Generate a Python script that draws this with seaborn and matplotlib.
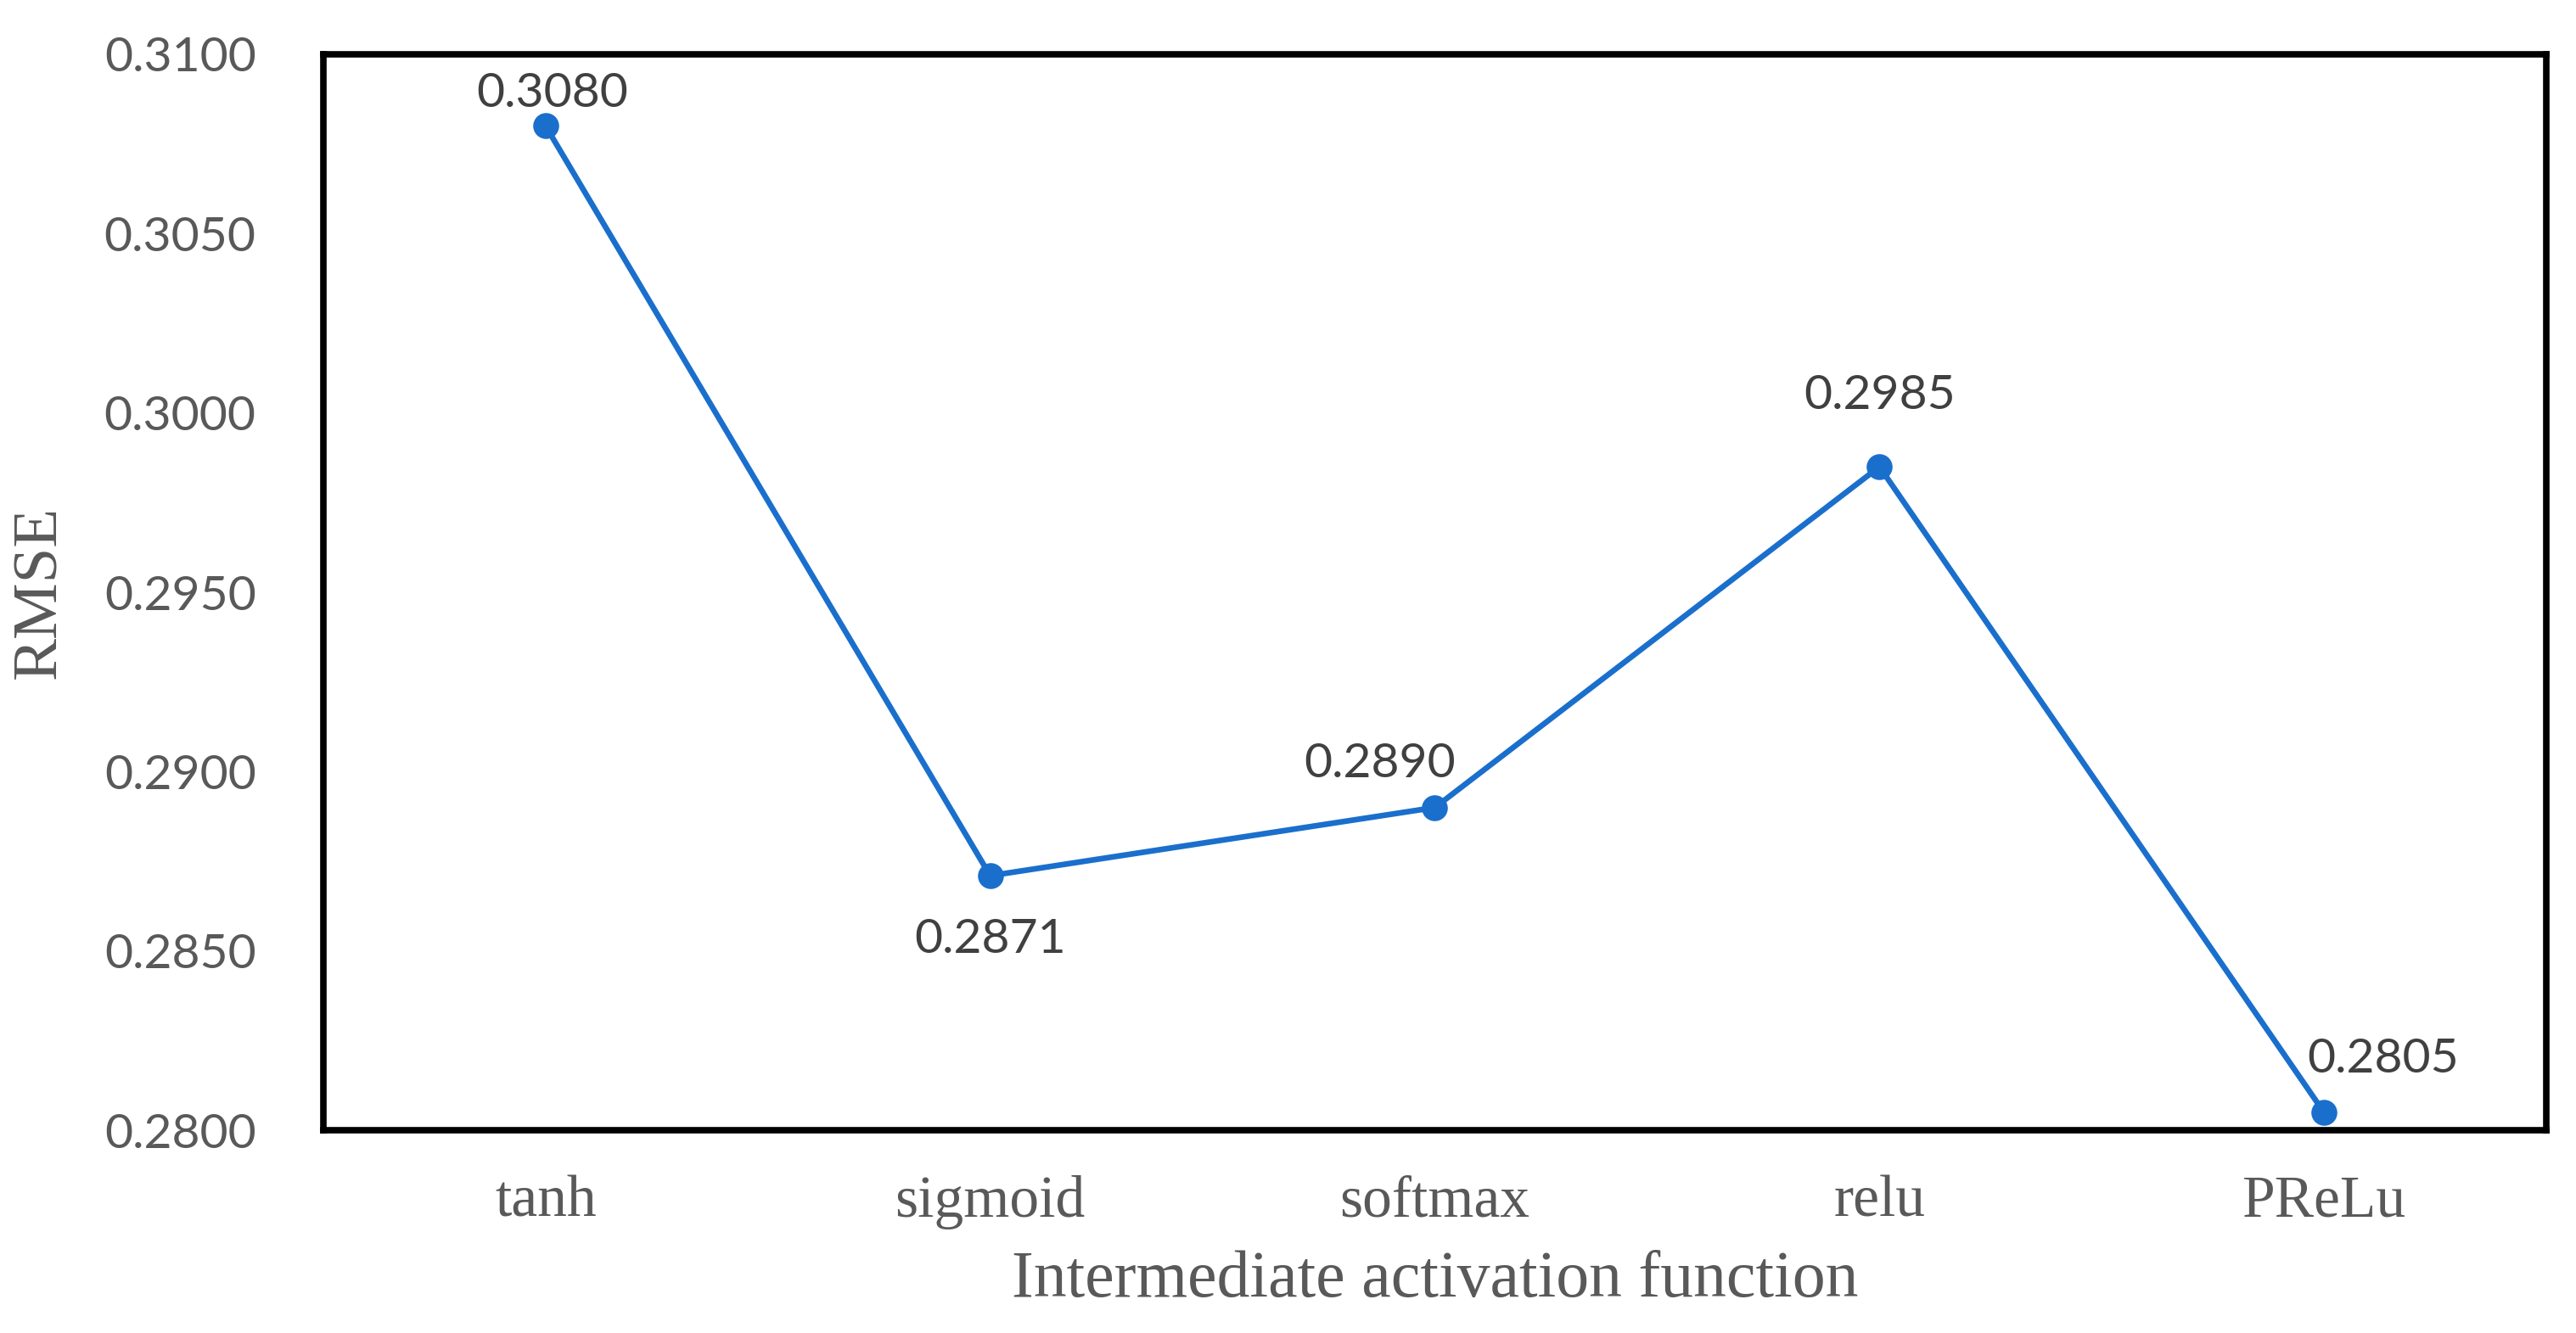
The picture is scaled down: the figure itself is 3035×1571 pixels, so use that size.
import pandas as pd
import seaborn as sns
from matplotlib import pyplot as plt

functions = ["tanh", "sigmoid", "softmax", "relu", "PReLu"]
rmse = [0.3080, 0.2871, 0.2890, 0.2985, 0.2805]
y_ticks = [0.2800, 0.2850, 0.2900, 0.2950, 0.3000, 0.3050, 0.3100]
# label offsets in points (dx, dy) for each point
label_offsets = [(6, 27), (0, -54), (-47, 37), (0, 60), (50, 45)]

df = pd.DataFrame({"function": functions, "rmse": rmse})
df["pos"] = range(len(functions))

sns.set_style("white")
plt.rcParams["font.family"] = ["Liberation Serif", "DejaVu Serif"]
num_font = ["Lato", "DejaVu Sans"]

fig = plt.figure(figsize=(30.35, 15.71), dpi=100)
ax = fig.add_axes([0.1255, 0.152, 0.863, 0.8073])

line_color = "#1a6fcc"
sns.lineplot(x="pos", y="rmse", data=df, ax=ax, color=line_color, lw=4.8,
             marker="o", markersize=22, markeredgewidth=0, legend=False)

for i, (x, y) in enumerate(zip(df["pos"], df["rmse"])):
    dx, dy = label_offsets[i]
    ax.annotate(f"{y:.4f}", (x, y), xytext=(dx, dy), textcoords="offset points",
                ha="center", va="center", fontsize=41, color="#404040",
                family=num_font)

ax.set_xlim(-0.5, len(functions) - 0.5)
ax.set_ylim(0.28, 0.31)
ax.set_xticks(df["pos"])
ax.set_xticklabels(functions)
ax.set_yticks(y_ticks)
ax.set_yticklabels([f"{t:.4f}" for t in y_ticks])
ax.tick_params(axis="both", length=0, labelcolor="#595959")
ax.tick_params(axis="x", labelsize=50, pad=38)
ax.tick_params(axis="y", labelsize=41, pad=57)
for lab in ax.get_yticklabels():
    lab.set_family(num_font)

for s in ax.spines.values():
    s.set_visible(True)
    s.set_color("black")
    s.set_linewidth(5.5)

ax.set_xlabel("Intermediate activation function", fontsize=56, color="#595959", labelpad=18)
ax.set_ylabel("RMSE", fontsize=54, color="#595959", labelpad=30)

plt.savefig("out.png", dpi=100)
